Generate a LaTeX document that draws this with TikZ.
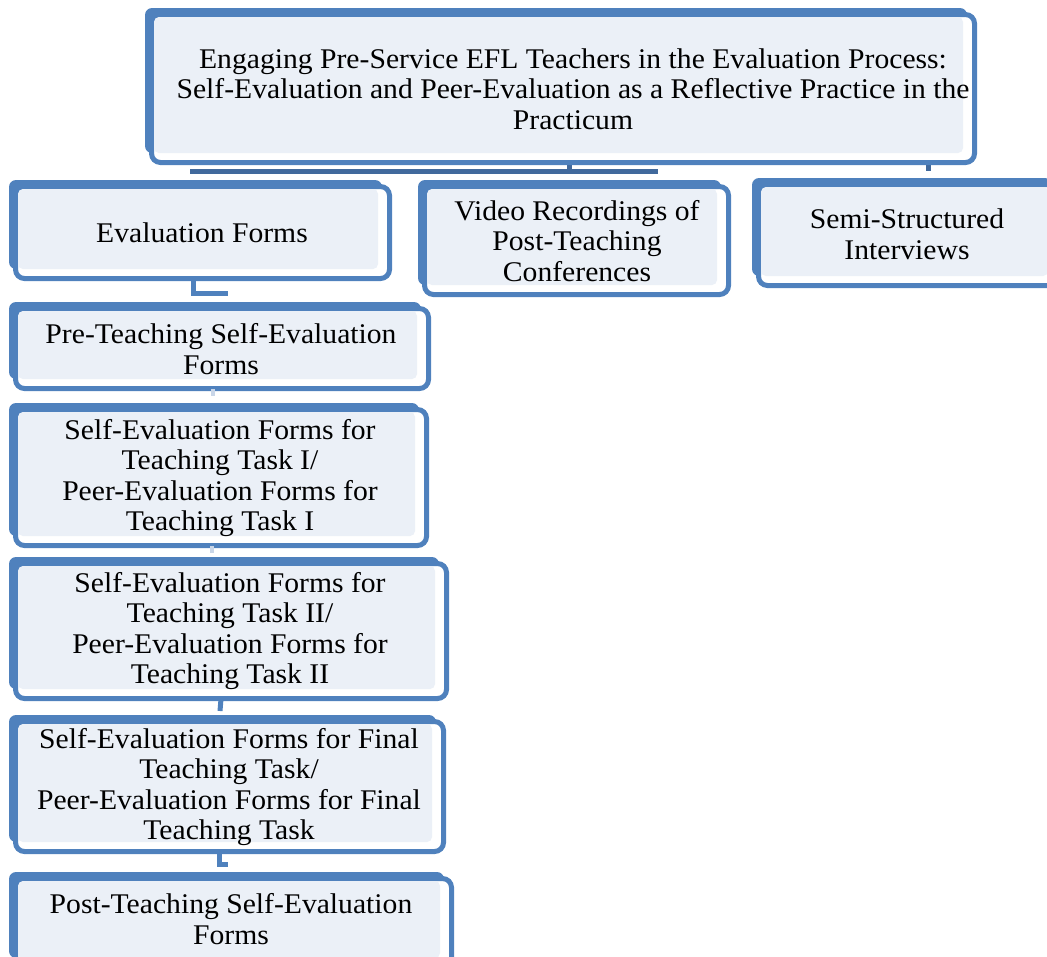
\documentclass[tikz,border=0pt]{standalone}
\usepackage{fontspec}
\setmainfont{Liberation Serif}[FakeStretch=1.04]
\definecolor{frameblue}{HTML}{4F81BD}
\definecolor{linkblue}{HTML}{41699C}
\definecolor{paleblue}{HTML}{EBF0F7}
\definecolor{faintblue}{HTML}{C9D6E8}
% Doubled, offset frame of one box: blue back plate, white rounded frame, pale fill
\newcommand\evalframe[4]{%
  \fill[frameblue, rounded corners=7pt] (#1,#2) rectangle (#3-10,#4-12);
  \draw[frameblue, line width=5pt, fill=white, rounded corners=9pt]
    (#1+6.5,#2+6.5) rectangle (#3-2.5,#4-2.5);
  \fill[paleblue, rounded corners=5pt] (#1+9,#2+9) rectangle (#3-14,#4-12);
}
\begin{document}
\begin{tikzpicture}[x=1pt, y=-1pt,
  label/.style={align=center, font=\fontsize{28.5}{30.5}\selectfont, inner sep=0pt},
  link/.style={linkblue, line width=5pt},
  sublink/.style={frameblue, line width=5pt},
  faintlink/.style={faintblue, line width=4pt}]
\useasboundingbox (0,0) rectangle (1047,956);
\begin{scope}
  \clip (0,0) rectangle (1047,956);
  % connectors under the title box
  \coordinate (tdrop) at (569,160);
  \coordinate (tbarL) at (190,171);
  \coordinate (tbarR) at (658,171);
  \coordinate (rtick) at (928,160);
  \coordinate (rtickE) at (928,171);
  \draw[link] (tbarL) -- (tbarR);
  \draw[link] (tdrop) -- (tdrop |- tbarL);
  \draw[link] (rtick) -- (rtickE);
  % boxes
  \evalframe{145}{8}{977}{165}
  \evalframe{9}{180}{392}{281}
  \evalframe{418}{180}{731}{297}
  \evalframe{752}{178}{1062}{288}
  \evalframe{9}{302}{431}{391}
  \evalframe{9}{403}{429}{548}
  \evalframe{9}{557}{449}{701}
  \evalframe{9}{715}{446}{854}
  \evalframe{9}{872}{454}{970}
  % labels
  \node[label] (title) at (573,89) {Engaging Pre-Service EFL Teachers in the Evaluation Process:\\
    Self-Evaluation and Peer-Evaluation as a Reflective Practice in the\\ Practicum};
  \node[label] (forms) at (202,233) {Evaluation Forms};
  \node[label] (video) at (577,241) {Video Recordings of\\ Post-Teaching\\ Conferences};
  \node[label] (semi) at (907,234) {Semi-Structured\\ Interviews};
  \node[label] (pre) at (221,349) {Pre-Teaching Self-Evaluation\\ Forms};
  \node[label] (taskone) at (220,478) {Self-Evaluation Forms for\\ Teaching Task I/\\
    Peer-Evaluation Forms for\\ Teaching Task I};
  \node[label] (tasktwo) at (230,631) {Self-Evaluation Forms for\\ Teaching Task II/\\
    Peer-Evaluation Forms for\\ Teaching Task II};
  \node[label] (final) at (229,787) {Self-Evaluation Forms for Final\\ Teaching Task/\\
    Peer-Evaluation Forms for Final\\ Teaching Task};
  \node[label] (post) at (231,919) {Post-Teaching Self-Evaluation\\ Forms};
  % connectors down the left column
  \coordinate (fdrop) at (193,281);
  \coordinate (fbend) at (193,293);
  \coordinate (fend) at (228,293);
  \draw[sublink] (fdrop) -- (fbend) -- (fend);
  \coordinate (pa) at (213,389);
  \coordinate (pb) at (213,396);
  \draw[faintlink] (pa) -- (pb);
  \coordinate (oa) at (212,546);
  \coordinate (ob) at (212,553);
  \draw[faintlink] (oa) -- (ob);
  \coordinate (ta) at (221,699);
  \coordinate (tb) at (220,711);
  \draw[sublink] (ta) -- (tb);
  \coordinate (fa) at (219,851);
  \coordinate (fb) at (219,864);
  \coordinate (fc) at (228,864);
  \draw[sublink] (fa) -- (fb) -- (fc);
\end{scope}
\end{tikzpicture}
\end{document}
